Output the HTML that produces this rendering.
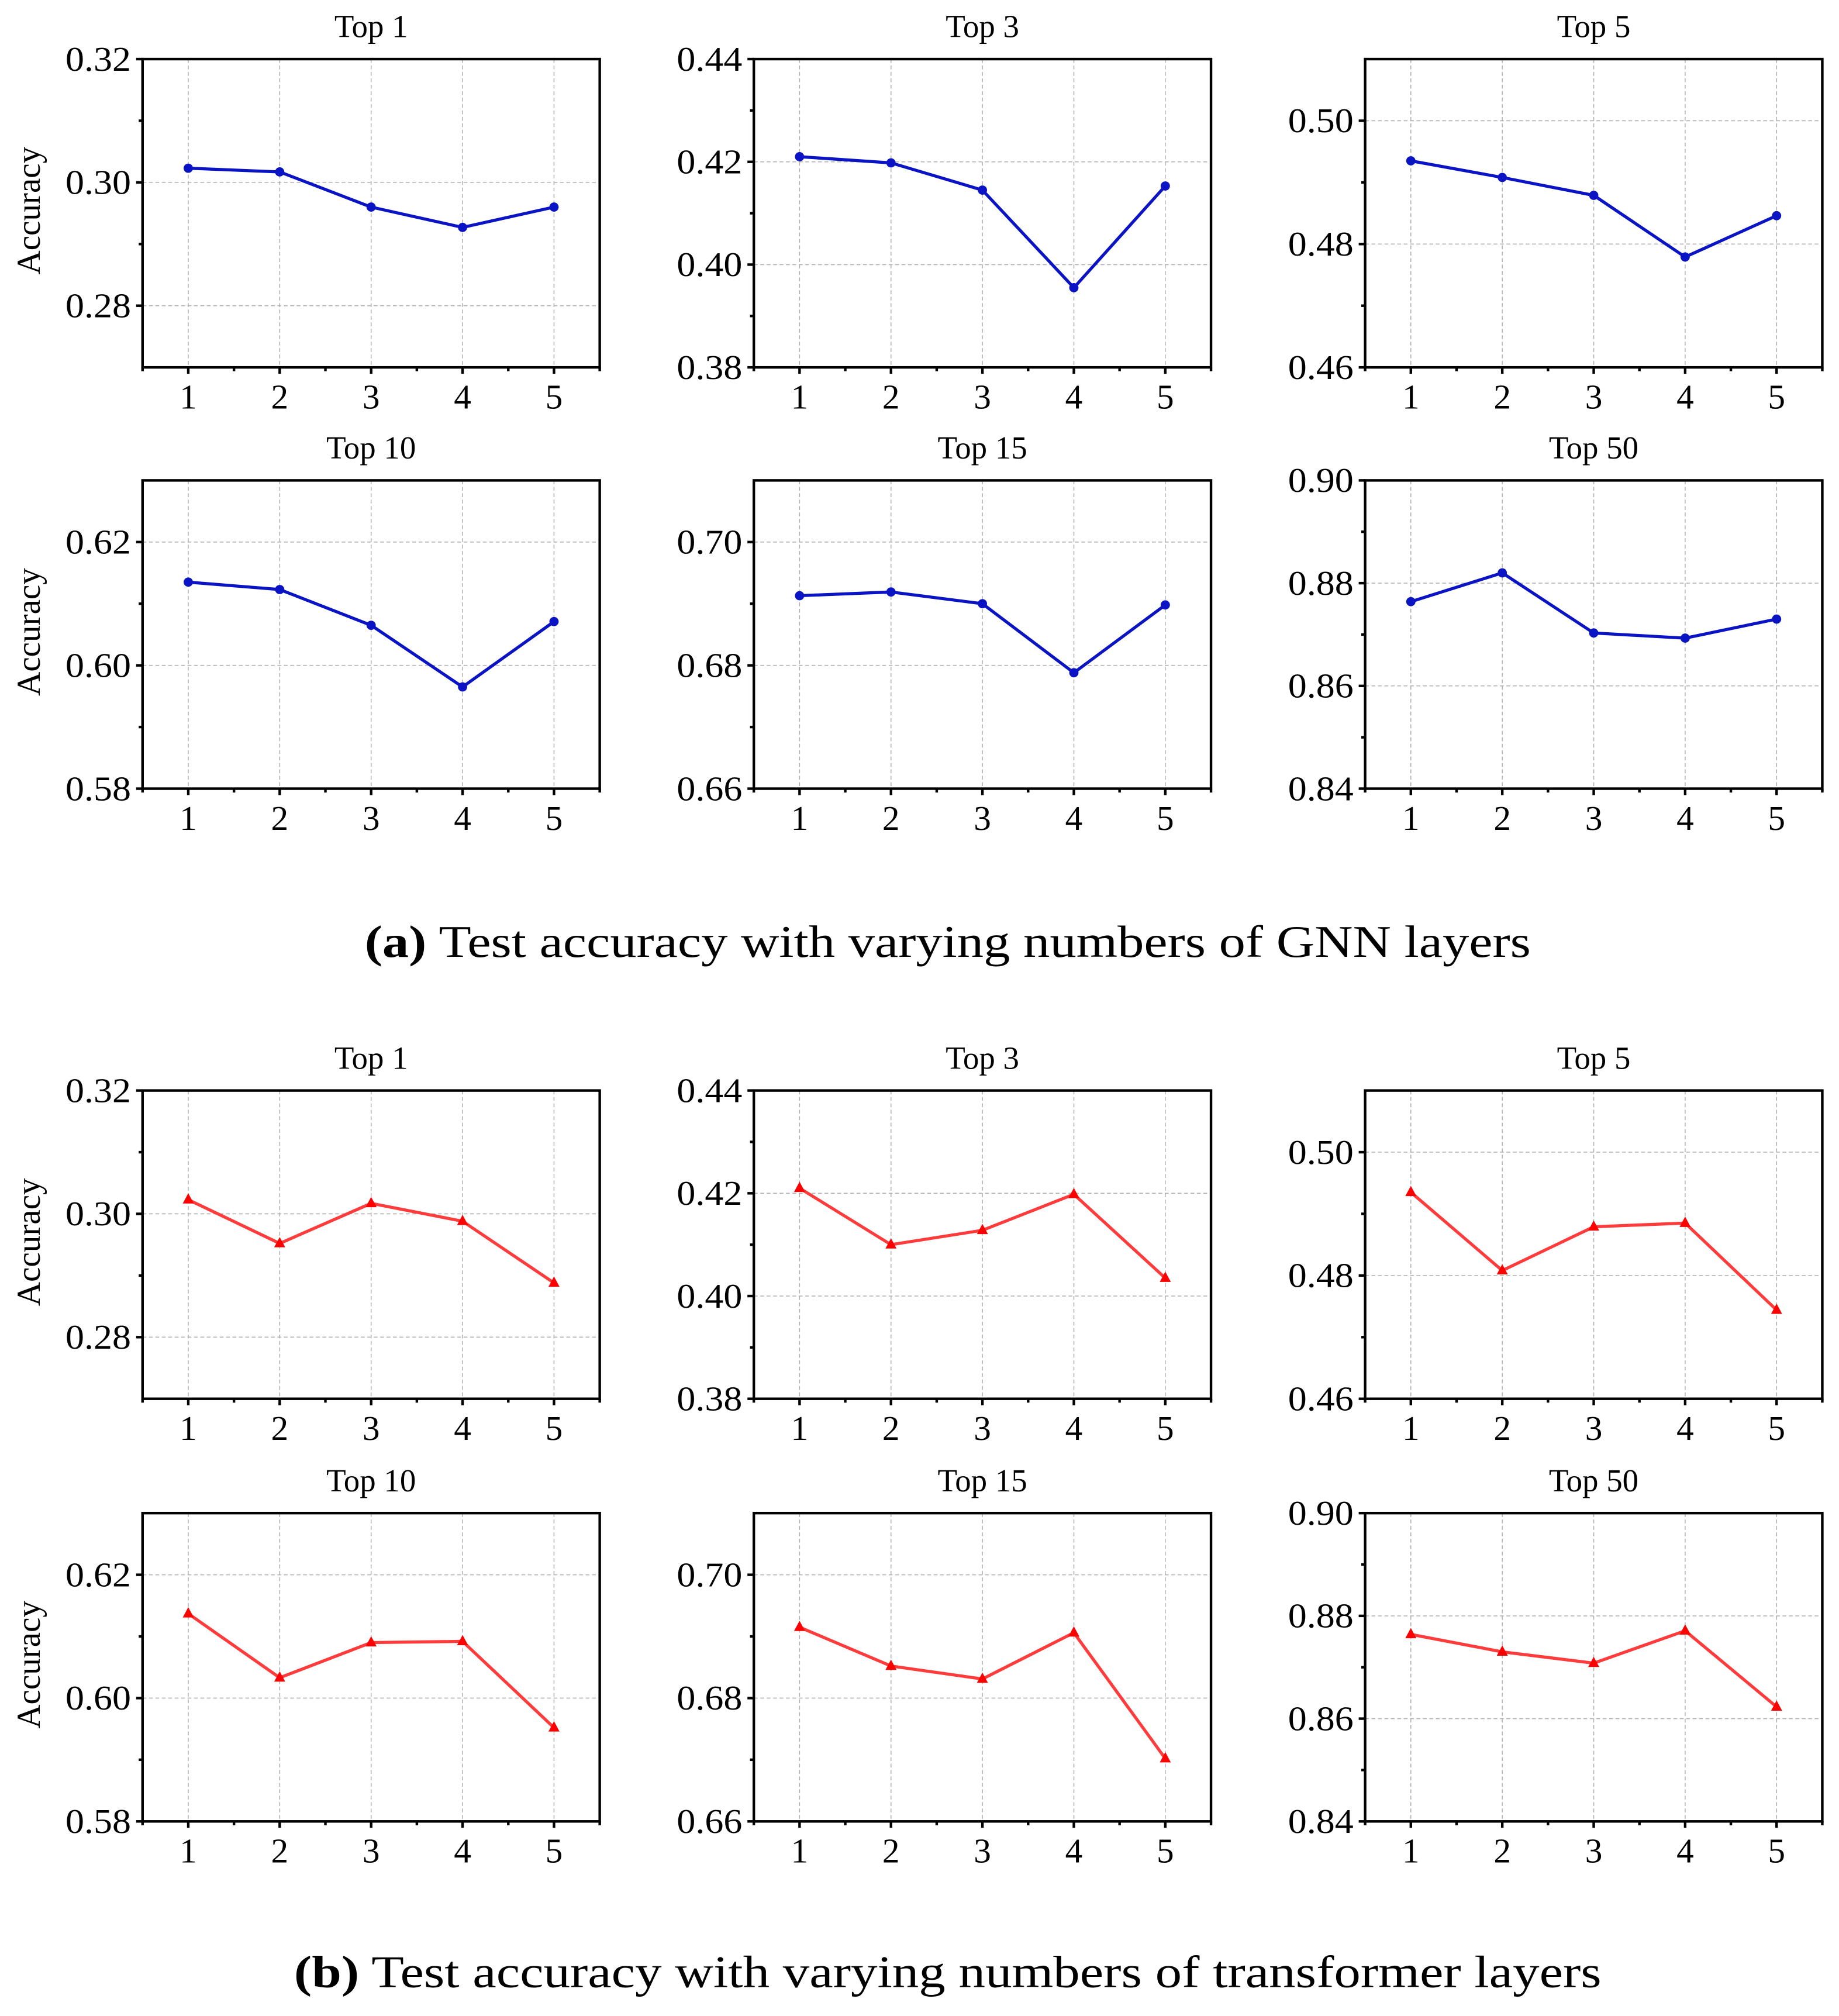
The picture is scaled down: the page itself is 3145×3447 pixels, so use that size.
<!DOCTYPE html>
<html><head><meta charset="utf-8"><style>
html,body{margin:0;padding:0;background:#fff;}
svg{display:block;}
text{font-family:"Liberation Serif",serif;fill:#000;}
</style></head><body>
<svg id="fig" width="3145" height="3447" viewBox="0 0 1432 1569.5" preserveAspectRatio="none" xmlns="http://www.w3.org/2000/svg">
<text x="738" y="745" text-anchor="middle" font-size="35" textLength="908" lengthAdjust="spacingAndGlyphs"><tspan font-weight="bold">(a)</tspan> Test accuracy with varying numbers of GNN layers</text>
<text x="738" y="1547" text-anchor="middle" font-size="35" textLength="1018" lengthAdjust="spacingAndGlyphs"><tspan font-weight="bold">(b)</tspan> Test accuracy with varying numbers of transformer layers</text>
</svg>
<script>
const categories = [1, 2, 3, 4, 5];
const titles = ["Top 1", "Top 3", "Top 5", "Top 10", "Top 15", "Top 50"];
const yMins = [0.27, 0.38, 0.46, 0.58, 0.66, 0.84];
const yMaxs = [0.32, 0.44, 0.51, 0.63, 0.71, 0.90];
const yTickLabels = [
  ["0.28","0.30","0.32"],
  ["0.38","0.40","0.42","0.44"],
  ["0.46","0.48","0.50"],
  ["0.58","0.60","0.62"],
  ["0.66","0.68","0.70"],
  ["0.84","0.86","0.88","0.90"]
];
const yMinorTicks = [
  [0.29,0.31],[0.39,0.41,0.43],[0.47,0.49],[0.59,0.61],[0.67,0.69],[0.85,0.87,0.89]
];
const gnnValues = [
  [0.3023,0.3017,0.2960,0.2927,0.2960],
  [0.4210,0.4198,0.4145,0.3955,0.4153],
  [0.4935,0.4908,0.4879,0.4779,0.4846],
  [0.6135,0.6123,0.6065,0.5965,0.6071],
  [0.6913,0.6919,0.6900,0.6788,0.6898],
  [0.8764,0.8820,0.8703,0.8693,0.8730]
];
const transformerValues = [
  [0.3023,0.2952,0.3017,0.2988,0.2888],
  [0.4210,0.4100,0.4128,0.4198,0.4035],
  [0.4935,0.4808,0.4879,0.4885,0.4744],
  [0.6137,0.6033,0.6090,0.6092,0.5952],
  [0.6915,0.6852,0.6831,0.6906,0.6702],
  [0.8764,0.8730,0.8708,0.8771,0.8623]
];

const NS = "http://www.w3.org/2000/svg";
const svg = document.getElementById("fig");
function mk(tag, attrs, parent){
  const e = document.createElementNS(NS, tag);
  for (const k in attrs) e.setAttribute(k, attrs[k]);
  (parent||svg).appendChild(e);
  return e;
}
const colX = [111, 587, 1063];
const W = 356, H = 240;
const rowTops = [46, 374, 849, 1178];

function drawPanel(idx, left, top, values, color, marker, groupName){
  const g = mk("g", {});
  
  
  const ymin = yMins[idx], ymax = yMaxs[idx];
  const xs = v => left + (v - 0.5) / 5 * W;
  const ys = v => top + H - (v - ymin) / (ymax - ymin) * H;
  const bottom = top + H, right = left + W;
  categories.forEach(c => {
    const l = mk("line", {x1:xs(c), x2:xs(c), y1:top, y2:bottom, stroke:"#b0b0b0", "stroke-width":0.7, "stroke-dasharray":"3,2"}, g);
    
    
  });
  yTickLabels[idx].forEach(t => {
    const v = parseFloat(t);
    const l = mk("line", {x1:left, x2:right, y1:ys(v), y2:ys(v), stroke:"#b0b0b0", "stroke-width":0.7, "stroke-dasharray":"3,2"}, g);
    
    
    const tk = mk("line", {x1:left-5, x2:left, y1:ys(v), y2:ys(v), stroke:"#000", "stroke-width":2}, g);
    
    
    const tx = mk("text", {x:left-9, y:ys(v)+9, "text-anchor":"end", "font-size":27, textLength:51, lengthAdjust:"spacingAndGlyphs"}, g);
    tx.textContent = t;
    
    
  });
  yMinorTicks[idx].forEach(v => {
    const tk = mk("line", {x1:left-3, x2:left, y1:ys(v), y2:ys(v), stroke:"#000", "stroke-width":2}, g);
    
    
  });
  for (let k = 0; k <= 10; k++){
    const v = 0.5 + k * 0.5;
    const major = (k % 2 === 1);
    const tk = mk("line", {x1:xs(v), x2:xs(v), y1:bottom, y2:bottom + (major?5:3), stroke:"#000", "stroke-width":2}, g);
    
    
  }
  categories.forEach(c => {
    const tx = mk("text", {x:xs(c), y:bottom+32, "text-anchor":"middle", "font-size":27}, g);
    tx.textContent = c;
    
    
  });
  const frame = mk("rect", {x:left, y:top, width:W, height:H, fill:"none", stroke:"#000", "stroke-width":2}, g);
  
  
  const title = mk("text", {x:left+W/2, y:top-17, "text-anchor":"middle", "font-size":25}, g);
  title.textContent = titles[idx];
  
  
  if (idx % 3 === 0){
    const yl = mk("text", {x:0, y:0, "text-anchor":"middle", "font-size":26, transform:"translate(31," + (top+H/2-2) + ") rotate(-90)"}, g);
    yl.textContent = "Accuracy";
    
    
  }
  const pts = values.map((v,i) => xs(categories[i]).toFixed(2) + "," + ys(v).toFixed(2)).join(" ");
  const pl = mk("polyline", {points:pts, fill:"none", stroke:color, "stroke-width":2.4}, g);
  
  
  values.forEach((v,i) => {
    const cx = xs(categories[i]), cy = ys(v);
    let m;
    if (marker === "circle"){
      m = mk("circle", {cx:cx, cy:cy, r:3.6, fill:color}, g);
    } else {
      m = mk("polygon", {points:(cx)+","+(cy-5)+" "+(cx-4.3)+","+(cy+3)+" "+(cx+4.3)+","+(cy+3), fill:"#ff0000"}, g);
    }
    
    
  });
}
for (let i = 0; i < 6; i++){
  const col = i % 3, row = Math.floor(i / 3);
  drawPanel(i, colX[col], rowTops[row], gnnValues[i], "#0a14c4", "circle", "gnn");
  drawPanel(i, colX[col], rowTops[row+2], transformerValues[i], "#ff3b3b", "triangle", "transformer");
}
</script>
</body></html>
